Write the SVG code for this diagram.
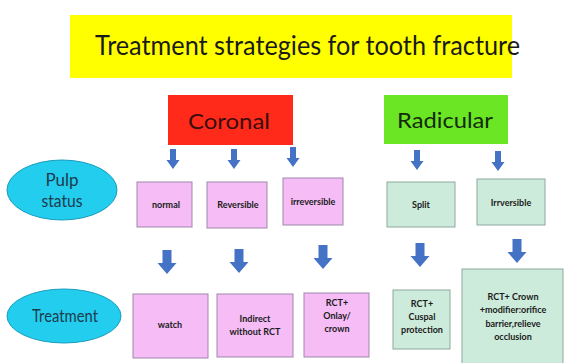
<svg xmlns="http://www.w3.org/2000/svg" xmlns:xlink="http://www.w3.org/1999/xlink" width="565" height="363" viewBox="0 0 565 363">
<style>
text{font-family:Lato,"Open Sans","Liberation Sans",sans-serif;text-anchor:middle}
.pink{fill:#F5BCF5;stroke:#9E88AA;stroke-width:1}
.green{fill:#CDEBDA;stroke:#8FA89E;stroke-width:1}
.ell{fill:#22CDEE;stroke:#1A9CBD;stroke-width:1}
.lbl{font-size:9px;font-weight:bold;fill:#1a1a1a}
.ellt{font-size:17px;fill:#1f3b4d}
.arr{fill:#4472C4}
</style>
<defs>
<path id="arrS" d="M-3,0 h6 v11 h3.5 l-6.5,9 l-6.5,-9 h3.5 z"/>
<path id="arrL" d="M-4.5,0 h9 v13 h5 l-9.5,11 l-9.5,-11 h5 z"/>
</defs>
<rect width="565" height="363" fill="#ffffff"/>
<g id="title">
<rect x="70" y="15" width="442" height="63" fill="#FFFF00"/>
<text x="307.5" y="55" font-size="26" fill="#1a1a1a" textLength="425" lengthAdjust="spacingAndGlyphs">Treatment strategies for tooth fracture</text>
</g>
<g id="coronal">
<rect x="168" y="95" width="125" height="50" fill="#FF2A1A"/>
<text x="229" y="129" font-size="22" fill="#3a0d0d" textLength="82" lengthAdjust="spacingAndGlyphs">Coronal</text>
</g>
<g id="radicular">
<rect x="384" y="95" width="124" height="49" fill="#6AE624"/>
<text x="445" y="128" font-size="22" fill="#142a0c" textLength="96" lengthAdjust="spacingAndGlyphs">Radicular</text>
</g>
<g id="pulp-status">
<ellipse class="ell" cx="62" cy="190" rx="55" ry="30"/>
<text class="ellt" x="62" y="186">Pulp</text>
<text class="ellt" x="62" y="207" textLength="41" lengthAdjust="spacingAndGlyphs">status</text>
</g>
<g id="treatment">
<ellipse class="ell" cx="64" cy="316" rx="57" ry="27"/>
<text class="ellt" x="65" y="322" textLength="66" lengthAdjust="spacingAndGlyphs">Treatment</text>
</g>
<g id="normal">
<rect class="pink" x="137" y="182" width="55" height="45"/>
<text class="lbl" x="166" y="208">normal</text>
</g>
<g id="reversible">
<rect class="pink" x="207" y="182" width="60" height="46"/>
<text class="lbl" x="238" y="208">Reversible</text>
</g>
<g id="irreversible">
<rect class="pink" x="283" y="178" width="60" height="47"/>
<text class="lbl" x="313" y="205">irreversible</text>
</g>
<g id="split">
<rect class="green" x="387" y="182" width="68" height="45"/>
<text class="lbl" x="421" y="208">Split</text>
</g>
<g id="irrversible">
<rect class="green" x="477" y="179" width="68" height="46"/>
<text class="lbl" x="511" y="206">Irrversible</text>
</g>
<g id="watch">
<rect class="pink" x="133" y="294" width="75" height="64"/>
<text class="lbl" x="170" y="328">watch</text>
</g>
<g id="indirect">
<rect class="pink" x="217" y="294" width="76" height="63"/>
<text class="lbl" x="255" y="322">Indirect</text>
<text class="lbl" x="255" y="335">without RCT</text>
</g>
<g id="rct-onlay">
<rect class="pink" x="304" y="293" width="65" height="64"/>
<text class="lbl" x="337" y="306">RCT+</text>
<text class="lbl" x="337" y="319">Onlay/</text>
<text class="lbl" x="337" y="332">crown</text>
</g>
<g id="rct-cuspal">
<rect class="green" x="393" y="290" width="57" height="59"/>
<text class="lbl" x="422" y="307">RCT+</text>
<text class="lbl" x="422" y="320">Cuspal</text>
<text class="lbl" x="422" y="333">protection</text>
</g>
<g id="rct-crown">
<rect class="green" x="462" y="269" width="101" height="100"/>
<text class="lbl" x="513" y="300">RCT+ Crown</text>
<text class="lbl" x="513" y="313">+modifier:orifice</text>
<text class="lbl" x="513" y="327">barrier,relieve</text>
<text class="lbl" x="513" y="340">occlusion</text>
</g>
<g id="connectors" class="arr">
<use xlink:href="#arrS" x="173" y="149"/>
<use xlink:href="#arrS" x="234" y="149"/>
<use xlink:href="#arrS" x="293" y="147"/>
<use xlink:href="#arrS" x="417" y="150"/>
<use xlink:href="#arrS" x="498" y="151"/>
<use xlink:href="#arrL" x="167" y="250"/>
<use xlink:href="#arrL" x="239" y="249"/>
<use xlink:href="#arrL" x="323" y="245"/>
<use xlink:href="#arrL" x="420" y="243"/>
<use xlink:href="#arrL" x="517" y="239"/>
</g>
</svg>
